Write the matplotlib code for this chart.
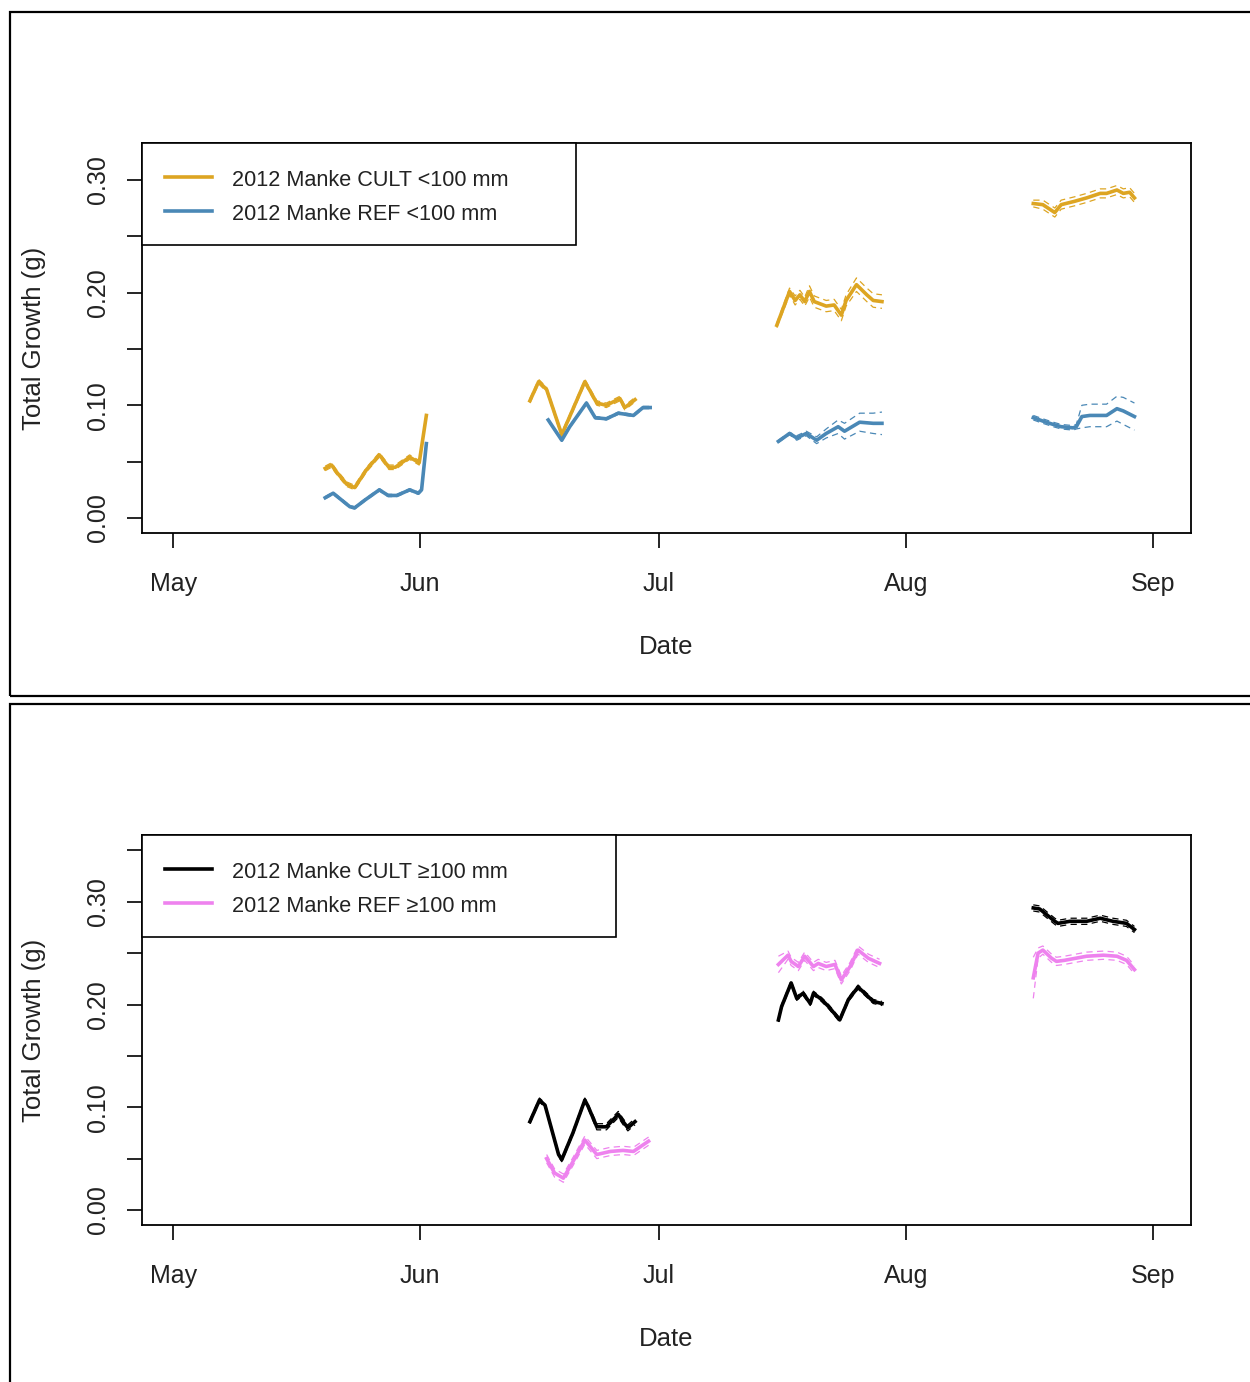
import numpy as np
import pandas as pd
import matplotlib
matplotlib.use("Agg")
import matplotlib.pyplot as plt
from matplotlib.patches import Rectangle
from matplotlib.lines import Line2D
from matplotlib.ticker import FixedLocator, FuncFormatter

plt.rcParams['font.family'] = ['Liberation Sans', 'DejaVu Sans']

START = pd.Timestamp("2012-05-01")

# ---- data: days after 1 May 2012, mean total growth (g), CI half-width ----
# fish < 100 mm, cultured
cult_small_days = [
    [19.1, 19.9, 20.5, 21.8, 22.8, 24.3, 25.9, 27.1, 27.9, 29.7, 30.9, 31.8],
    [44.8, 45.9, 46.9, 48.8, 49.8, 51.7, 53.2, 54.4, 56.1, 56.7, 57.1, 58.0],
    [75.8, 77.4, 78.1, 78.7, 79.3, 79.9, 80.5, 82.0, 83.0, 83.9, 84.5, 85.8, 87.1, 87.9, 89.0],
    [108.0, 109.2, 110.7, 111.5, 113.2, 114.7, 116.4, 117.2, 118.5, 119.3, 120.1, 120.7],
]
cult_small_mean = [
    [0.044, 0.047, 0.041, 0.030, 0.027, 0.043, 0.056, 0.045, 0.045, 0.054, 0.049, 0.091],
    [0.104, 0.121, 0.114, 0.074, 0.090, 0.121, 0.102, 0.100, 0.106, 0.098, 0.100, 0.105],
    [0.171, 0.201, 0.193, 0.198, 0.192, 0.201, 0.192, 0.188, 0.189, 0.180, 0.193, 0.207, 0.198, 0.193, 0.192],
    [0.279, 0.278, 0.271, 0.278, 0.281, 0.284, 0.288, 0.288, 0.291, 0.288, 0.289, 0.284],
]
cult_small_ci = [
    [0.002] * 12,
    [0.002] * 12,
    [0.002, 0.003, 0.004, 0.004, 0.004, 0.005, 0.005, 0.005, 0.005, 0.005, 0.005, 0.006, 0.006, 0.006, 0.006],
    [0.003, 0.004, 0.004, 0.004, 0.004, 0.004, 0.004, 0.004, 0.004, 0.004, 0.004, 0.004],
]

# fish < 100 mm, reference
ref_small_days = [
    [19.1, 20.1, 22.2, 22.8, 24.1, 25.9, 27.0, 28.1, 29.7, 30.8, 31.2, 31.8],
    [47.1, 48.8, 49.8, 51.9, 53.0, 54.4, 55.9, 57.8, 59.0, 59.9],
    [76.0, 77.4, 78.3, 79.5, 80.8, 82.0, 83.5, 84.3, 86.2, 87.9, 89.0],
    [108.0, 109.2, 110.5, 111.5, 113.0, 113.4, 114.1, 115.1, 117.2, 118.5, 119.3, 120.7],
]
ref_small_mean = [
    [0.018, 0.022, 0.010, 0.009, 0.016, 0.025, 0.020, 0.020, 0.025, 0.022, 0.025, 0.066],
    [0.087, 0.069, 0.081, 0.102, 0.089, 0.088, 0.093, 0.091, 0.098, 0.098],
    [0.068, 0.075, 0.071, 0.075, 0.069, 0.075, 0.081, 0.077, 0.085, 0.084, 0.084],
    [0.089, 0.086, 0.083, 0.081, 0.080, 0.081, 0.090, 0.091, 0.091, 0.097, 0.095, 0.090],
]
ref_small_ci = [
    [0.001] * 12,
    [0.001] * 10,
    [0.001, 0.001, 0.002, 0.002, 0.003, 0.004, 0.006, 0.007, 0.008, 0.009, 0.010],
    [0.002, 0.002, 0.002, 0.002, 0.002, 0.002, 0.010, 0.010, 0.010, 0.011, 0.012, 0.012],
]

# fish >= 100 mm, cultured
cult_large_days = [
    [44.8, 46.0, 46.7, 48.4, 48.8, 50.2, 51.7, 52.1, 53.2, 54.4, 55.9, 56.5, 57.1, 58.0],
    [76.0, 76.4, 77.6, 78.3, 79.1, 80.0, 80.4, 81.4, 82.3, 83.7, 84.8, 86.0, 87.1, 87.9, 89.0],
    [108.0, 108.8, 110.7, 111.1, 112.6, 114.7, 116.4, 118.0, 119.7, 120.7],
]
cult_large_mean = [
    [0.086, 0.107, 0.102, 0.054, 0.049, 0.075, 0.107, 0.101, 0.081, 0.081, 0.093, 0.086, 0.080, 0.086],
    [0.185, 0.198, 0.221, 0.206, 0.211, 0.201, 0.211, 0.205, 0.198, 0.185, 0.205, 0.217, 0.209, 0.203, 0.201],
    [0.294, 0.293, 0.281, 0.279, 0.281, 0.281, 0.284, 0.281, 0.279, 0.273],
]
cult_large_ci = [
    [0.002, 0.002, 0.002, 0.002, 0.002, 0.002, 0.002, 0.002, 0.003, 0.003, 0.003, 0.003, 0.003, 0.003],
    [0.002] * 15,
    [0.003, 0.003, 0.003, 0.003, 0.003, 0.003, 0.003, 0.003, 0.003, 0.003],
]

# fish >= 100 mm, reference
ref_large_days = [
    [46.9, 47.9, 49.0, 50.2, 51.7, 53.2, 54.9, 56.5, 57.8, 59.7],
    [76.0, 77.2, 77.6, 78.5, 79.3, 80.4, 81.0, 82.0, 83.1, 83.9, 85.0, 86.0, 87.3, 88.7],
    [108.0, 108.6, 109.2, 110.3, 110.9, 111.9, 114.7, 116.8, 118.5, 119.7, 120.7],
]
ref_large_mean = [
    [0.050, 0.036, 0.031, 0.047, 0.068, 0.054, 0.057, 0.058, 0.057, 0.067],
    [0.239, 0.248, 0.242, 0.237, 0.247, 0.237, 0.240, 0.237, 0.239, 0.224, 0.237, 0.253, 0.245, 0.240],
    [0.226, 0.250, 0.253, 0.245, 0.242, 0.243, 0.247, 0.248, 0.247, 0.243, 0.234],
]
ref_large_ci = [
    [0.004] * 10,
    [0.008, 0.004, 0.004, 0.004, 0.004, 0.004, 0.004, 0.004, 0.004, 0.004, 0.004, 0.004, 0.004, 0.004],
    [0.020, 0.005, 0.004, 0.004, 0.004, 0.004, 0.004, 0.004, 0.004, 0.004, 0.004],
]

month_ticks = ["2012-05-01", "2012-06-01", "2012-07-01", "2012-08-01", "2012-09-01"]
month_labels = ["May", "Jun", "Jul", "Aug", "Sep"]

GOLD = "#DDA522"
BLUE = "#4A88B6"
VIOLET = "#EE82EE"
BLACK = "#000000"

W, H = 1250, 1382
fig = plt.figure(figsize=(W / 100, H / 100), dpi=100)


def to_dates(days):
    return START + pd.to_timedelta(np.asarray(days, dtype=float), unit="D")


def draw_series(ax, days, means, cis, color):
    for d, m, c in zip(days, means, cis):
        t = to_dates(d)
        m = np.asarray(m)
        c = np.asarray(c)
        ax.plot(t, m - c, color=color, lw=0.9, ls=(0, (5, 3.5)), zorder=2)
        ax.plot(t, m + c, color=color, lw=0.9, ls=(0, (5, 3.5)), zorder=2)
        ax.plot(t, m, color=color, lw=2.6, zorder=3, solid_joinstyle="round")


def style_axes(ax, ylim, yticks):
    ax.set_xlim(START - pd.Timedelta(days=3.9), START + pd.Timedelta(days=127.8))
    ax.set_ylim(*ylim)
    ax.xaxis.set_major_locator(FixedLocator([matplotlib.dates.date2num(pd.Timestamp(s)) for s in month_ticks]))
    ax.set_xticklabels(month_labels)
    ax.yaxis.set_major_locator(FixedLocator(yticks))
    ax.yaxis.set_major_formatter(FuncFormatter(
        lambda v, p: f"{v:.2f}" if round(v * 100) % 10 == 0 else ""))
    for s in ax.spines.values():
        s.set_linewidth(1.3)
    ax.tick_params(axis="both", direction="out", length=11, width=1.2, labelsize=18)
    ax.tick_params(axis="x", pad=17)
    ax.tick_params(axis="y", pad=12)
    for lab in ax.get_yticklabels():
        lab.set_rotation(90)
        lab.set_va("center")
        lab.set_color("#222222")
    for lab in ax.get_xticklabels():
        lab.set_color("#222222")
    ax.text(-0.1030, 0.5, "Total Growth (g)", transform=ax.transAxes, rotation=90,
            ha="center", va="center", fontsize=18.5, color="#222222")
    ax.text(0.5, -0.2923, "Date", transform=ax.transAxes, ha="center", va="center",
            fontsize=18.5, color="#222222")


def draw_key(ax, width, entries):
    ax.add_patch(Rectangle((0, 1 - 0.2615), width, 0.2615, transform=ax.transAxes,
                           facecolor="white", edgecolor="black", lw=1.2, zorder=5, clip_on=False))
    for (label, color), y in zip(entries, [0.9128, 0.8256]):
        ax.add_line(Line2D([0.0219, 0.0667], [y, y], transform=ax.transAxes,
                           color=color, lw=2.6, zorder=6))
        ax.text(0.0858, y - 0.010, label, transform=ax.transAxes, ha="left", va="center",
                fontsize=15.6, color="#222222", zorder=6)


# outer panel frames
for top_px, bot_px in [(12, 695.7), (703.7, H + 10)]:
    fig.add_artist(Rectangle((10 / W, 1 - bot_px / H), 1.05, (bot_px - top_px) / H,
                             transform=fig.transFigure, fill=False, edgecolor="black",
                             lw=1.6, clip_on=False))

ax1 = fig.add_axes([142 / W, 1 - 533 / H, 1049 / W, 390 / H])
ax2 = fig.add_axes([142 / W, 1 - 1225 / H, 1049 / W, 390 / H])

draw_series(ax1, cult_small_days, cult_small_mean, cult_small_ci, GOLD)
draw_series(ax1, ref_small_days, ref_small_mean, ref_small_ci, BLUE)
style_axes(ax1, (-0.0133, 0.3327), np.round(np.arange(0, 0.31, 0.05), 2))
draw_key(ax1, 0.4137, [("2012 Manke CULT <100 mm", GOLD), ("2012 Manke REF <100 mm", BLUE)])

draw_series(ax2, cult_large_days, cult_large_mean, cult_large_ci, BLACK)
draw_series(ax2, ref_large_days, ref_large_mean, ref_large_ci, VIOLET)
style_axes(ax2, (-0.0146, 0.365), np.round(np.arange(0, 0.36, 0.05), 2))
draw_key(ax2, 0.4519, [("2012 Manke CULT \u2265100 mm", BLACK), ("2012 Manke REF \u2265100 mm", VIOLET)])

fig.savefig("out.png", dpi=100)
